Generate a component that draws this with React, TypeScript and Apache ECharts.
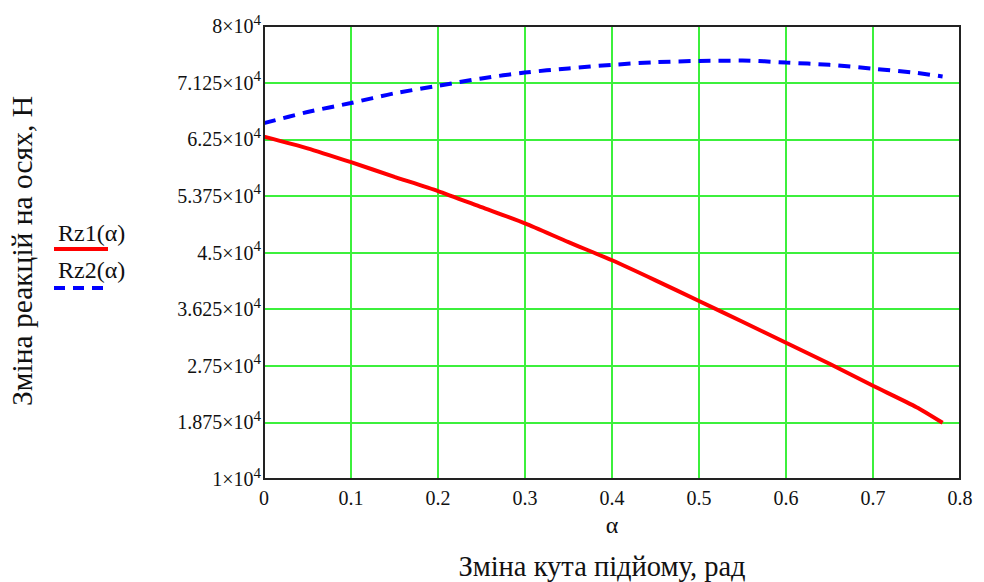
import React, { useEffect, useRef } from 'react';
import * as echarts from 'echarts';

const ALPHA = [0, 0.05, 0.1, 0.15, 0.2, 0.25, 0.3, 0.35, 0.4, 0.45, 0.5, 0.55, 0.6, 0.65, 0.7, 0.75, 0.78];
const RZ1 = [62900, 61100, 58950, 56700, 54500, 52000, 49500, 46600, 43800, 40700, 37500, 34300, 31050, 27800, 24400, 21100, 18700];
const RZ2 = [65000, 66700, 68100, 69600, 70750, 71900, 72800, 73450, 74000, 74400, 74600, 74650, 74350, 74000, 73400, 72750, 72200];

const Y_MIN = 10000;
const Y_MAX = 80000;
const Y_STEP = 8750;
const X_MIN = 0;
const X_MAX = 0.8;
const X_STEP = 0.1;

const SERIES_NAMES = ['Rz1(α)', 'Rz2(α)'];
const Y_NAME = 'Зміна реакцій на осях, Н';
const X_NAME = 'α';
const X_TITLE = 'Зміна кута підйому, рад';

const FONT = 'Liberation Serif, serif';

export default function App() {
  const ref = useRef<HTMLDivElement>(null);
  useEffect(() => {
    const chart = echarts.init(ref.current!, null, { renderer: 'svg' });
    const GL = 264, GT = 26, GR = 24, GB = 103;
    const W = 984, H = 582;
    chart.setOption({
      animation: false,
      backgroundColor: '#ffffff',
      grid: { left: GL, right: GR, top: GT, bottom: GB },
      xAxis: {
        type: 'value',
        min: X_MIN,
        max: X_MAX,
        interval: X_STEP,
        axisLine: { show: true, lineStyle: { color: '#111', width: 2 } },
        axisTick: { show: false },
        splitLine: { show: true, lineStyle: { color: '#3cf03c', width: 2 } },
        axisLabel: {
          color: '#111',
          fontFamily: FONT,
          fontSize: 20,
          margin: 9,
          formatter: (v: number) => String(+v.toFixed(1)),
        },
        name: X_NAME,
        nameLocation: 'middle',
        nameGap: 33,
        nameTextStyle: { color: '#111', fontFamily: FONT, fontSize: 24 },
      },
      yAxis: {
        type: 'value',
        min: 0,
        max: Y_MAX - Y_MIN,
        interval: Y_STEP,
        axisLine: { show: true, lineStyle: { color: '#111', width: 2 } },
        axisTick: { show: false },
        splitLine: { show: true, lineStyle: { color: '#3cf03c', width: 2 } },
        axisLabel: {
          margin: 3,
          formatter: (v: number) => {
            const n = +((v + Y_MIN) / 1e4).toFixed(4);
            return `{m|${n}×10}{s|4}`;
          },
          rich: {
            m: { color: '#111', fontFamily: FONT, fontSize: 20 },
            s: { color: '#111', fontFamily: FONT, fontSize: 15, padding: [0, 0, 13, 0] },
          },
        },
      },
      series: [
        {
          name: SERIES_NAMES[0],
          type: 'line',
          showSymbol: false,
          smooth: 0.2,
          data: ALPHA.map((a, i) => [a, RZ1[i] - Y_MIN]),
          lineStyle: { color: '#ff0000', width: 4 },
          z: 3,
        },
        {
          name: SERIES_NAMES[1],
          type: 'line',
          showSymbol: false,
          smooth: 0.3,
          data: ALPHA.map((a, i) => [a, RZ2[i] - Y_MIN]),
          lineStyle: { color: '#0000ff', width: 4, type: [12, 8] },
          z: 3,
        },
      ],
      graphic: [
        {
          type: 'rect',
          z: 100,
          silent: true,
          shape: { x: GL, y: GT, width: W - GL - GR, height: H - GT - GB },
          style: { fill: 'none', stroke: '#222', lineWidth: 2 },
        },
        {
          type: 'text',
          x: 22,
          y: 251,
          rotation: Math.PI / 2,
          style: {
            text: Y_NAME,
            fill: '#111',
            fontFamily: FONT,
            fontSize: 29.5,
            textAlign: 'center',
            textVerticalAlign: 'middle',
          },
        },
        {
          type: 'text',
          x: 602,
          y: 566,
          style: {
            text: X_TITLE,
            fill: '#111',
            fontFamily: FONT,
            fontSize: 28.5,
            textAlign: 'center',
            textVerticalAlign: 'middle',
          },
        },
        {
          type: 'text',
          x: 58,
          y: 233,
          style: { text: SERIES_NAMES[0], fill: '#111', fontFamily: FONT, fontSize: 24, textAlign: 'left', textVerticalAlign: 'middle' },
        },
        {
          type: 'line',
          shape: { x1: 54, y1: 249, x2: 108, y2: 249 },
          style: { stroke: '#ff0000', lineWidth: 4 },
        },
        {
          type: 'text',
          x: 58,
          y: 270,
          style: { text: SERIES_NAMES[1], fill: '#111', fontFamily: FONT, fontSize: 24, textAlign: 'left', textVerticalAlign: 'middle' },
        },
        {
          type: 'line',
          shape: { x1: 54, y1: 288, x2: 108, y2: 288 },
          style: { stroke: '#0000ff', lineWidth: 4, lineDash: [11, 8] },
        },
      ],
    });
    return () => chart.dispose();
  }, []);
  return <div ref={ref} style={{ width: 984, height: 582, position: 'absolute', left: 0, top: 0 }} />;
}
